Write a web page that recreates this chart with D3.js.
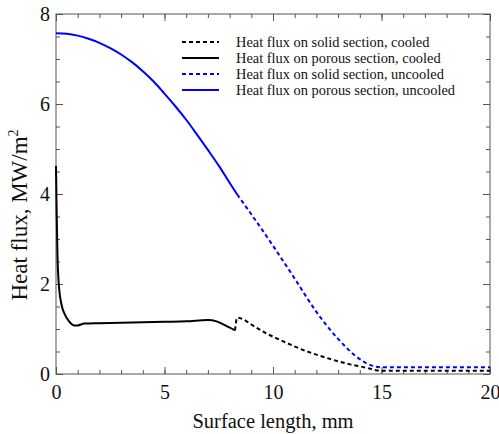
<!DOCTYPE html>
<html>
<head>
<meta charset="utf-8">
<script src="https://cdn.jsdelivr.net/npm/d3@7"></script>
<style>
  body { margin: 0; background: #fff; }
  svg text { font-family: "Liberation Serif", "Times New Roman", serif; fill: #111; }
</style>
</head>
<body>
<svg id="chart"></svg>
<script>
// values
const solidCooledX   = [8.25, 8.35, 8.6, 9.0, 9.7, 10.5, 11.2, 12.0, 12.8, 13.5, 14.3, 14.8, 15.2, 20];
const solidCooledY   = [0.97, 1.25, 1.22, 1.10, 0.90, 0.72, 0.57, 0.43, 0.31, 0.22, 0.14, 0.08, 0.07, 0.07];
const porousCooledX  = [0.0, 0.03, 0.07, 0.12, 0.25, 0.4, 0.6, 0.85, 1.0, 1.3, 2, 3, 4, 5, 6, 7, 7.4, 7.8, 8.25];
const porousCooledY  = [4.62, 3.6, 2.6, 2.05, 1.55, 1.33, 1.17, 1.08, 1.08, 1.12, 1.13, 1.14, 1.15, 1.16, 1.17, 1.20, 1.17, 1.08, 0.97];
const solidUncooledX = [8.35, 9, 10, 11, 12, 13, 14, 14.6, 15, 20];
const solidUncooledY = [3.99, 3.55, 2.85, 2.12, 1.38, 0.78, 0.33, 0.18, 0.15, 0.15];
const porousUncooledX = [0, 0.5, 1, 1.5, 2, 2.5, 3, 3.5, 4, 4.5, 5, 5.5, 6, 6.5, 7, 7.5, 8, 8.35];
const porousUncooledY = [7.57, 7.56, 7.52, 7.45, 7.36, 7.24, 7.10, 6.93, 6.73, 6.50, 6.23, 5.95, 5.65, 5.32, 4.98, 4.63, 4.25, 3.99];

const legendLabels = ["Heat flux on solid section, cooled",
                      "Heat flux on porous section, cooled",
                      "Heat flux on solid section, uncooled",
                      "Heat flux on porous section, uncooled"];

const xTicks = [0, 5, 10, 15, 20];
const yTicks = [0, 2, 4, 6, 8];

const width = 499, height = 434;
const margin = { left: 56, right: 9, top: 14, bottom: 60 };
const innerWidth = width - margin.left - margin.right;
const innerHeight = height - margin.top - margin.bottom;

const svg = d3.select('#chart')
    .attr('width', width)
    .attr('height', height);

const g = svg.append('g')
    .attr('transform', `translate(${margin.left},${margin.top})`);

const xScale = d3.scaleLinear().domain([0, 20]).range([0, innerWidth]);
const yScale = d3.scaleLinear().domain([0, 8]).range([innerHeight, 0]);

const axisColor = '#555';

// minor ticks, all four sides
const xMinor = d3.range(0, 21, 1);
const yMinor = d3.range(0, 8.01, 0.5);
g.append('g').attr('transform', `translate(0,${innerHeight})`)
  .call(d3.axisBottom(xScale).tickValues(xMinor).tickSize(-4).tickFormat(''));
g.append('g')
  .call(d3.axisTop(xScale).tickValues(xMinor).tickSize(-4).tickFormat(''));
g.append('g')
  .call(d3.axisLeft(yScale).tickValues(yMinor).tickSize(-4).tickFormat(''));
g.append('g').attr('transform', `translate(${innerWidth},0)`)
  .call(d3.axisRight(yScale).tickValues(yMinor).tickSize(-4).tickFormat(''));

// major ticks with labels
g.append('g').attr('class', 'xaxis').attr('transform', `translate(0,${innerHeight})`)
  .call(d3.axisBottom(xScale).tickValues(xTicks).tickSize(-7).tickPadding(11).tickFormat(d3.format('d')));
g.append('g')
  .call(d3.axisTop(xScale).tickValues(xTicks).tickSize(-7).tickFormat(''));
g.append('g').attr('class', 'yaxis')
  .call(d3.axisLeft(yScale).tickValues(yTicks).tickSize(-7).tickPadding(6).tickFormat(d3.format('d')));
g.append('g').attr('transform', `translate(${innerWidth},0)`)
  .call(d3.axisRight(yScale).tickValues(yTicks).tickSize(-7).tickFormat(''));

g.selectAll('.domain').remove();
g.selectAll('.tick line').attr('stroke', axisColor);
g.selectAll('.xaxis text, .yaxis text')
  .attr('font-size', 20)
  .attr('font-family', 'Liberation Serif')
  .attr('fill', '#111');

// frame
g.append('rect')
  .attr('width', innerWidth)
  .attr('height', innerHeight)
  .attr('fill', 'none')
  .attr('stroke', axisColor)
  .attr('stroke-width', 1);

const series = [
  { x: solidCooledX, y: solidCooledY, color: '#000', dash: '4,3' },
  { x: porousCooledX, y: porousCooledY, color: '#000', dash: null },
  { x: solidUncooledX, y: solidUncooledY, color: '#0000ff', dash: '4,3' },
  { x: porousUncooledX, y: porousUncooledY, color: '#0000ff', dash: null }
];

const line = d3.line()
  .x(d => xScale(d[0]))
  .y(d => yScale(d[1]))
  .curve(d3.curveMonotoneX);

g.selectAll('path.series')
  .data(series)
  .enter()
  .append('path')
  .attr('class', 'series')
  .attr('d', s => line(s.x.map((v, i) => [v, s.y[i]])))
  .attr('fill', 'none')
  .attr('stroke', s => s.color)
  .attr('stroke-width', 2)
  .attr('stroke-dasharray', s => s.dash);

// legend
const legend = svg.append('g').attr('transform', 'translate(182,42)');
const rows = legend.selectAll('g')
  .data(series)
  .enter()
  .append('g')
  .attr('transform', (d, i) => `translate(0,${i * 16})`);
rows.append('line')
  .attr('x1', 0).attr('x2', 37)
  .attr('stroke', d => d.color)
  .attr('stroke-width', 2)
  .attr('stroke-dasharray', d => d.dash);
rows.append('text')
  .attr('x', 54)
  .attr('dy', '0.35em')
  .attr('font-size', 14.4)
  .text((d, i) => legendLabels[i]);

// axis titles
svg.append('text')
  .attr('x', margin.left + innerWidth / 2)
  .attr('y', 428)
  .attr('text-anchor', 'middle')
  .attr('font-size', 20.5)
  .text('Surface length, mm');

const yTitle = svg.append('text')
  .attr('transform', 'translate(27,215) rotate(-90)')
  .attr('text-anchor', 'middle')
  .attr('font-size', 23);
yTitle.append('tspan').text('Heat flux, MW/m');
yTitle.append('tspan').attr('dy', -9).attr('font-size', 14).text('2');
</script>
</body>
</html>
